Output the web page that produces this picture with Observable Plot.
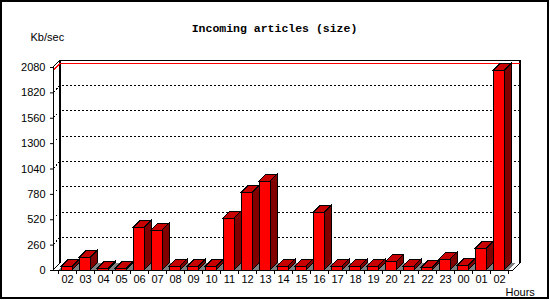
<!DOCTYPE html>
<html><head><meta charset="utf-8">
<script src="https://cdn.jsdelivr.net/npm/d3@7"></script>
<script src="https://cdn.jsdelivr.net/npm/@observablehq/plot@0.6"></script>
<style>
html,body{margin:0;padding:0;background:#fff;}
#wrap{position:relative;width:550px;height:300px;overflow:hidden;background:#fff;}
#border{position:absolute;left:0;top:0;width:549px;height:299px;box-sizing:border-box;border:2px solid #000;pointer-events:none;}
svg{display:block;}
</style></head><body><div id="wrap"><div id="border"></div></div>
<script>
const hours = ["02","03","04","05","06","07","08","09","10","11","12","13","14","15","16","17","18","19","20","21","22","23","00","01","02"];
const kbPerSec = [35,126,17,17,437,407,38,36,36,530,796,909,38,38,591,38,38,38,82,38,27,110,48,222,2045];
const yTicks = [0,260,520,780,1040,1300,1560,1820,2080];
const title = "Incoming articles (size)";
const yLabel = "Kb/sec";
const xLabel = "Hours";

const data = hours.map((h, i) => ({i, hour: h, value: kbPerSec[i]}));
const DEPTH = 7;
const INSET_L = 3, INSET_R = 4;
const ns = "http://www.w3.org/2000/svg";
function el(tag, attrs) { const e = document.createElementNS(ns, tag); for (const k in attrs) e.setAttribute(k, attrs[k]); return e; }
function bwOf(sx) { return typeof sx.bandwidth === "function" ? sx.bandwidth() : sx.bandwidth; }
const pts = a => a.map(p => p.join(",")).join(" ");

function wall(index, scales, values, dims) {
  const sx = scales.x, sy = scales.y, D = DEPTH;
  const g = el("g", {"shape-rendering": "crispEdges"});
  const x0 = dims.marginLeft, x1 = dims.width - dims.marginRight;
  const yb = sy(0), yt = sy(yTicks[yTicks.length - 1]);
  for (const v of yTicks.slice(1, -1)) {
    const y = sy(v);
    g.append(el("polyline", {points: pts([[x0, y], [x0 + D, y - D], [x1 + D, y - D]]), fill: "none", stroke: "#000", "stroke-dasharray": "2,2"}));
  }
  g.append(el("line", {x1: x0 + D, y1: yt - D, x2: x0 + D, y2: yb - D, stroke: "#000", "stroke-width": 2}));
  g.append(el("line", {x1: x0 + D, y1: yt - D, x2: x1 + D, y2: yt - D, stroke: "#000"}));
  g.append(el("line", {x1: x1 + D, y1: yt - D, x2: x1 + D, y2: yb - D, stroke: "#000", "stroke-width": 2}));
  g.append(el("line", {x1: x0, y1: yt, x2: x0 + D, y2: yt - D, stroke: "#000"}));
  const ym = sy(d3.max(kbPerSec));
  g.append(el("polyline", {points: pts([[x0, ym], [x0 + D, ym - D], [x1 + D, ym - D]]), fill: "none", stroke: "#ff0000"}));
  const bw = bwOf(sx);
  for (const d of data) {
    const bx = sx(d.i);
    g.append(el("polygon", {points: pts([[bx, yb], [bx + bw, yb], [bx + bw + D, yb - D], [bx + D, yb - D]]), fill: "#808080"}));
  }
  g.append(el("line", {x1: x0, y1: yt, x2: x0, y2: yb, stroke: "#000"}));
  g.append(el("line", {x1: x0, y1: yb, x2: x1, y2: yb, stroke: "#000"}));
  g.append(el("line", {x1: x0, y1: yb, x2: x0 + D, y2: yb - D, stroke: "#000"}));
  g.append(el("line", {x1: x1, y1: yb, x2: x1 + D, y2: yb - D, stroke: "#000"}));
  for (let i = 0; i <= data.length; i++) {
    const x = i < data.length ? sx(i) : sx(data.length - 1) + bw;
    g.append(el("line", {x1: x, y1: yb, x2: x, y2: yb + 4, stroke: "#000"}));
  }
  return g;
}

function depthFaces(index, scales, values, dims) {
  const sx = scales.x, sy = scales.y, D = DEPTH;
  const g = el("g", {"shape-rendering": "crispEdges"});
  const bw = bwOf(sx);
  const yb = sy(0);
  for (const d of data) {
    const bl = sx(d.i) + INSET_L, br = sx(d.i) + bw - INSET_R;
    const yt = sy(d.value);
    g.append(el("polygon", {points: pts([[br, yt], [br + D, yt - D], [br + D, yb - D], [br, yb]]), fill: "#800000", stroke: "#000"}));
    g.append(el("polygon", {points: pts([[bl, yt], [bl + D, yt - D], [br + D, yt - D], [br, yt]]), fill: "#c80000", stroke: "#000"}));
  }
  return g;
}

const chart = Plot.plot({
  width: 550,
  height: 300,
  marginTop: 67,
  marginBottom: 30,
  marginLeft: 53,
  marginRight: 37,
  style: {fontFamily: "Liberation Sans", fontSize: "11px", background: "transparent", color: "#000", overflow: "visible"},
  x: {type: "band", domain: d3.range(hours.length), padding: 0, tickSize: 0, tickPadding: 5, tickFormat: i => hours[i], label: null},
  y: {domain: [0, 2080], ticks: yTicks, tickSize: 3, tickPadding: 5, tickFormat: d => String(d), label: null},
  marks: [
    wall,
    depthFaces,
    Plot.barY(data, {x: "i", y: "value", fill: "#ff0000", stroke: "#000", insetLeft: INSET_L, insetRight: INSET_R, shapeRendering: "crispEdges"}),
    Plot.text([title], {text: d => d, frameAnchor: "top", dx: -9, dy: -36, lineAnchor: "bottom", fontFamily: "Liberation Mono", fontWeight: "bold", fontSize: 11.5}),
    Plot.text([yLabel], {text: d => d, frameAnchor: "top-left", textAnchor: "start", dx: -23, dy: -27, lineAnchor: "bottom"}),
    Plot.text([xLabel], {text: d => d, frameAnchor: "bottom-right", textAnchor: "start", dx: -8, dy: 25.5, lineAnchor: "bottom"})
  ]
});
document.getElementById("wrap").insertBefore(chart, document.getElementById("border"));
</script>
</body></html>
